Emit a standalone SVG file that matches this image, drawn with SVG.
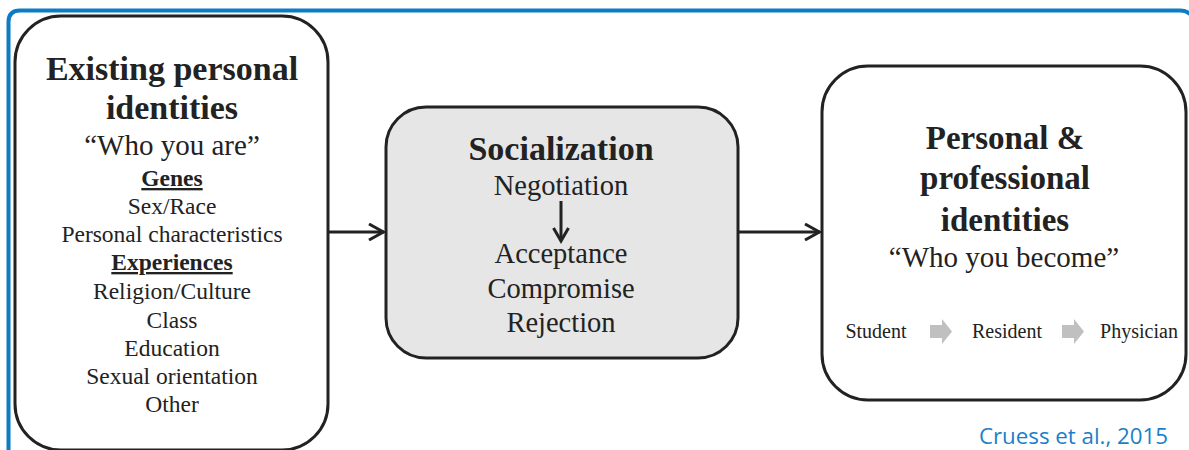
<svg xmlns="http://www.w3.org/2000/svg" width="1189" height="450" viewBox="0 0 1189 450">
  <defs>
    <style>
      .box { fill: #ffffff; stroke: #222; stroke-width: 3; }
      .gray { fill: #e6e6e6; }
      .t { fill: #222; text-anchor: middle; }
      .h { font-size: 34px; font-weight: bold; }
      .h2 { font-size: 33px; font-weight: bold; }
      .q { font-size: 29px; }
      .s { font-size: 23.5px; }
      .b { font-size: 23.5px; font-weight: bold; text-decoration: underline; }
      .m { font-size: 28.5px; }
      .sm { font-size: 20px; }
      .conn { stroke: #222; stroke-width: 3; fill: none; }
      .step { fill: #c0c0c0; }
    </style>
    <marker id="arrow" viewBox="0 0 18 18" refX="16.5" refY="9" markerWidth="18" markerHeight="18" markerUnits="userSpaceOnUse" orient="auto">
      <path d="M1.5,1 L16,9 L1.5,17" fill="none" stroke="#222" stroke-width="3"/>
    </marker>
  </defs>

  <rect width="1189" height="450" fill="#ffffff"/>

  <!-- outer blue frame -->
  <path d="M8.5,460 V22 Q8.5,10.5 20,10.5 H1180 Q1186,10.5 1190,14" fill="none" stroke="#0d7cc4" stroke-width="4"/>

  <!-- connectors -->
  <g id="connectors">
    <line class="conn" x1="328" y1="232" x2="384" y2="232" marker-end="url(#arrow)"/>
    <line class="conn" x1="738" y1="232" x2="820" y2="232" marker-end="url(#arrow)"/>
  </g>

  <g font-family="Liberation Serif, Times New Roman, Times, serif">
  <!-- existing identities -->
  <g id="existing">
    <rect class="box" x="15" y="16" width="313" height="434" rx="46"/>
    <text class="t h" x="172" y="80">Existing personal</text>
    <text class="t h" x="172" y="119">identities</text>
    <text class="t q" x="172" y="155">“Who you are”</text>
    <text class="t b" x="172" y="186">Genes</text>
    <text class="t s" x="172" y="214">Sex/Race</text>
    <text class="t s" x="172" y="242">Personal characteristics</text>
    <text class="t b" x="172" y="270">Experiences</text>
    <text class="t s" x="172" y="299">Religion/Culture</text>
    <text class="t s" x="172" y="328">Class</text>
    <text class="t s" x="172" y="356">Education</text>
    <text class="t s" x="172" y="384">Sexual orientation</text>
    <text class="t s" x="172" y="412">Other</text>
  </g>

  <!-- socialization -->
  <g id="socialization">
    <rect class="box gray" x="386" y="107" width="352" height="251" rx="40"/>
    <text class="t h" x="561" y="160">Socialization</text>
    <text class="t m" x="561" y="195">Negotiation</text>
    <line x1="561" y1="201" x2="561" y2="240" stroke="#222" stroke-width="3"/>
    <path d="M553.5,228 L561,241 L568.5,228" fill="none" stroke="#222" stroke-width="3"/>
    <text class="t m" x="561" y="263">Acceptance</text>
    <text class="t m" x="561" y="298">Compromise</text>
    <text class="t m" x="561" y="332">Rejection</text>
  </g>

  <!-- resulting identities -->
  <g id="resulting">
    <rect class="box" x="822" y="66" width="364" height="334" rx="46"/>
    <text class="t h2" x="1005" y="149">Personal &amp;</text>
    <text class="t h2" x="1005" y="189">professional</text>
    <text class="t h2" x="1005" y="231">identities</text>
    <text class="t q" x="1004" y="267">“Who you become”</text>
    <text class="t sm" x="876" y="338">Student</text>
    <path class="step" d="M930,325 H942 V319 L952,331.5 L942,344 V338 H930 Z"/>
    <text class="t sm" x="1007" y="338">Resident</text>
    <path class="step" d="M1062,325 H1074 V319 L1084,331.5 L1074,344 V338 H1062 Z"/>
    <text class="t sm" x="1139" y="338">Physician</text>
  </g>
  </g>

  <text x="1168" y="444" text-anchor="end" font-family="Open Sans, Lato, sans-serif" font-size="22.3" fill="#1a7fc8">Cruess et al., 2015</text>
</svg>
